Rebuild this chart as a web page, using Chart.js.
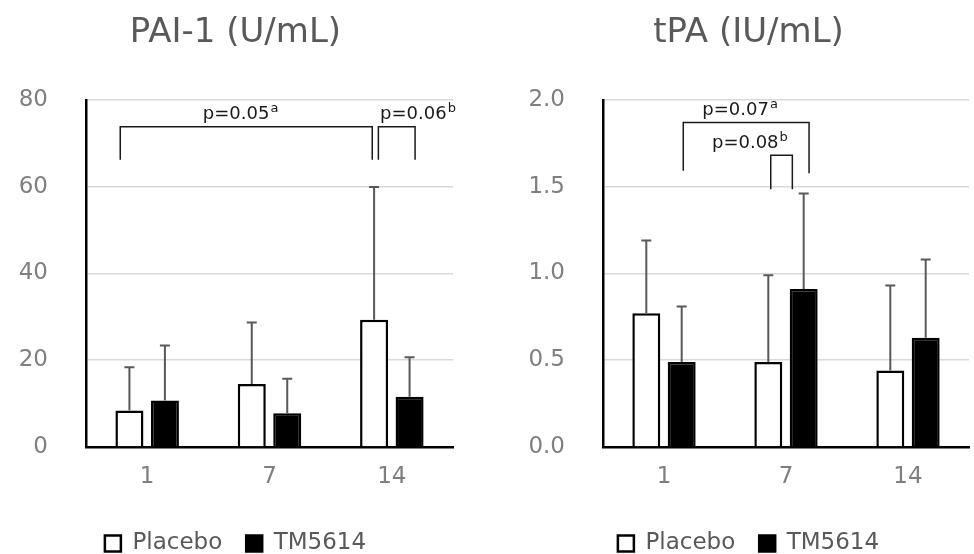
<!DOCTYPE html>
<html>
<head>
<meta charset="utf-8">
<script src="https://cdn.jsdelivr.net/npm/chart.js@4.4.1/dist/chart.umd.min.js"></script>
<style>
  html, body { margin: 0; padding: 0; background: #fff; }
  #wrap { position: relative; width: 974px; height: 554px; }
  .panel { position: absolute; top: 0; height: 554px; }
</style>
</head>
<body>
<div id="wrap">
  <div class="panel" style="left:0; width:487px;"><canvas id="chart-pai"></canvas></div>
  <div class="panel" style="left:487px; width:487px;"><canvas id="chart-tpa"></canvas></div>
</div>

<script>
// ── Data ──
const days = ['1', '7', '14'];
const seriesNames = ['Placebo', 'TM5614'];

// PAI-1 (U/mL): mean and SD
const paiPlacebo = [8.4, 14.5, 29.3];
const paiPlaceboSD = [10.0, 14.2, 30.6];
const paiTM = [10.7, 7.8, 11.6];
const paiTMSD = [12.7, 7.9, 9.1];

// tPA (IU/mL): mean and SD
const tpaPlacebo = [0.77, 0.49, 0.44];
const tpaPlaceboSD = [0.42, 0.50, 0.49];
const tpaTM = [0.49, 0.91, 0.63];
const tpaTMSD = [0.32, 0.55, 0.45];

// significance brackets (x in category index units, y in axis units)
const paiBrackets = [
  { x1: -0.22, x2: 1.84, top: 73.8, foot1: 66.2, foot2: 66.2, text: 'p=0.05', sup: 'a', tx: 0.76, ty: 75.6 },
  { x1: 1.89, x2: 2.19, top: 73.8, foot1: 66.2, foot2: 66.2, text: 'p=0.06', sup: 'b', tx: 2.21, ty: 75.6 }
];
const tpaBrackets = [
  { x1: 0.158, x2: 1.189, top: 1.869, foot1: 1.592, foot2: 1.577, text: 'p=0.07', sup: 'a', tx: 0.62, ty: 1.915 },
  { x1: 0.875, x2: 1.052, top: 1.681, foot1: 1.485, foot2: 1.485, text: 'p=0.08', sup: 'b', tx: 0.70, ty: 1.725 }
];

const FONT = "'DejaVu Sans', Verdana, sans-serif";
const tickColor = '#7f7f7f';
const textColor = '#595959';

// whiskers drawn from the top of each bar to mean + SD
const errorBarsPlugin = {
  id: 'errorBars',
  afterDatasetsDraw(chart) {
    const ctx = chart.ctx;
    const yScale = chart.scales.y;
    ctx.save();
    ctx.strokeStyle = '#595959';
    ctx.lineWidth = 2;
    chart.data.datasets.forEach((ds, di) => {
      const meta = chart.getDatasetMeta(di);
      meta.data.forEach((bar, i) => {
        const top = yScale.getPixelForValue(ds.data[i] + ds.sd[i]);
        ctx.beginPath();
        ctx.moveTo(bar.x, bar.y);
        ctx.lineTo(bar.x, top);
        ctx.moveTo(bar.x - 5, top);
        ctx.lineTo(bar.x + 5, top);
        ctx.stroke();
      });
    });
    ctx.restore();
  }
};

function bracketsPlugin(items) {
  return {
    id: 'pBrackets',
    afterDraw(chart) {
      const ctx = chart.ctx;
      const x = chart.scales.x, y = chart.scales.y;
      ctx.save();
      ctx.strokeStyle = '#1a1a1a';
      ctx.lineWidth = 1.5;
      items.forEach(b => {
        const x1 = x.getPixelForValue(b.x1), x2 = x.getPixelForValue(b.x2);
        const yt = y.getPixelForValue(b.top);
        ctx.beginPath();
        ctx.moveTo(x1, y.getPixelForValue(b.foot1));
        ctx.lineTo(x1, yt);
        ctx.lineTo(x2, yt);
        ctx.lineTo(x2, y.getPixelForValue(b.foot2));
        ctx.stroke();

        // label with superscript letter
        ctx.fillStyle = '#1a1a1a';
        ctx.textBaseline = 'alphabetic';
        ctx.textAlign = 'left';
        ctx.font = '18px ' + FONT;
        const w1 = ctx.measureText(b.text).width;
        ctx.font = '13px ' + FONT;
        const w2 = ctx.measureText(b.sup).width;
        const start = x.getPixelForValue(b.tx) - (w1 + w2) / 2;
        const base = y.getPixelForValue(b.ty);
        ctx.font = '18px ' + FONT;
        ctx.fillText(b.text, start, base);
        ctx.font = '13px ' + FONT;
        ctx.fillText(b.sup, start + w1 + 1, base - 7);
      });
      ctx.restore();
    }
  };
}

function makeChart(id, title, placebo, placeboSD, tm, tmSD, max, step, decimals, pad, axisWidth, brackets) {
  const ctx = document.getElementById(id).getContext('2d');
  return new Chart(ctx, {
    type: 'bar',
    data: {
      labels: days,
      datasets: [
        {
          label: seriesNames[0],
          data: placebo,
          sd: placeboSD,
          backgroundColor: '#ffffff',
          borderColor: '#000000',
          borderWidth: 2.5,
          categoryPercentage: 0.58,
          barPercentage: 0.79
        },
        {
          label: seriesNames[1],
          data: tm,
          sd: tmSD,
          backgroundColor: '#000000',
          borderColor: '#000000',
          borderWidth: 2.5,
          categoryPercentage: 0.58,
          barPercentage: 0.79
        }
      ]
    },
    options: {
      responsive: true,
      maintainAspectRatio: false,
      animation: false,
      layout: { padding: pad },
      plugins: {
        title: {
          display: true,
          text: title,
          color: textColor,
          font: { family: FONT, size: 34, weight: 'normal' },
          padding: { top: 13, bottom: 46 }
        },
        legend: {
          position: 'bottom',
          labels: {
            color: textColor,
            font: { family: FONT, size: 23 },
            boxWidth: 16,
            boxHeight: 16,
            padding: 24
          }
        },
        tooltip: { enabled: false }
      },
      scales: {
        x: {
          grid: { display: false, drawTicks: false },
          border: { color: '#000000', width: 2.5 },
          ticks: { color: tickColor, font: { family: FONT, size: 23, lineHeight: 1 }, padding: 19 }
        },
        y: {
          min: 0,
          max: max,
          afterFit: scale => { scale.width = axisWidth; },
          grid: { color: '#d9d9d9', lineWidth: 1.5, drawTicks: false },
          border: { color: '#000000', width: 2.5 },
          ticks: {
            stepSize: step,
            color: tickColor,
            font: { family: FONT, size: 23 },
            padding: 38,
            callback: v => v.toFixed(decimals)
          }
        }
      }
    },
    plugins: [errorBarsPlugin, bracketsPlugin(brackets)]
  });
}

makeChart('chart-pai', 'PAI-1 (U/mL)', paiPlacebo, paiPlaceboSD, paiTM, paiTMSD, 80, 20, 0,
  { left: 18, right: 34, top: 0, bottom: -11 }, 68, paiBrackets);
makeChart('chart-tpa', 'tPA (IU/mL)', tpaPlacebo, tpaPlaceboSD, tpaTM, tpaTMSD, 2, 0.5, 1,
  { left: 41, right: 5, top: 0, bottom: -11 }, 75, tpaBrackets);
</script>
</body>
</html>
